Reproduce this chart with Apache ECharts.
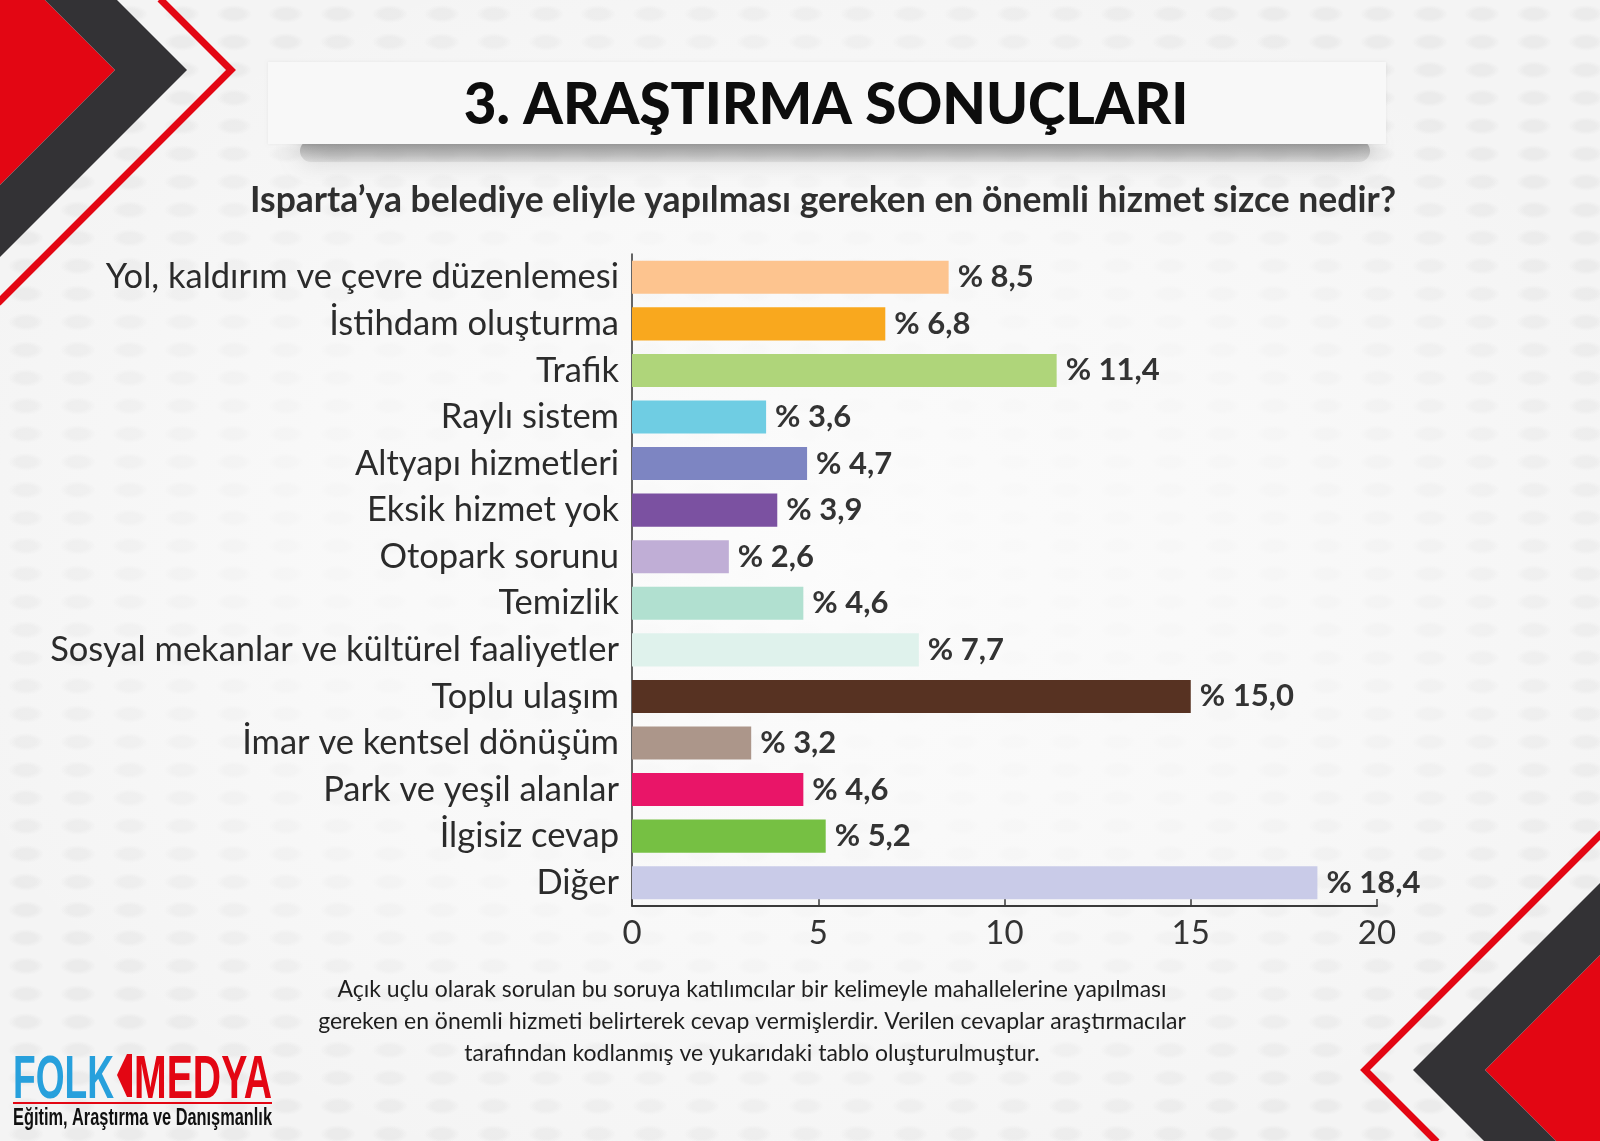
<!DOCTYPE html>
<html>
<head>
<meta charset="utf-8">
<script src="https://cdn.jsdelivr.net/npm/echarts@6/dist/echarts.min.js"></script>
<style>
html,body{margin:0;padding:0;}
#main{width:1600px;height:1141px;
background:
 radial-gradient(ellipse at 50% 50%, rgba(252,252,252,0.95) 0%, rgba(250,250,250,0.7) 45%, rgba(245,245,245,0) 80%),
 radial-gradient(ellipse 18px 9px at 50% 50%, #ebebeb 55%, rgba(235,235,235,0) 100%) 0 0/52px 28px,
 #f4f4f4;}
</style>
</head>
<body>
<div id="main"></div>
<script>
const categories = [
  'Yol, kaldırım ve çevre düzenlemesi',
  'İstihdam oluşturma',
  'Trafik',
  'Raylı sistem',
  'Altyapı hizmetleri',
  'Eksik hizmet yok',
  'Otopark sorunu',
  'Temizlik',
  'Sosyal mekanlar ve kültürel faaliyetler',
  'Toplu ulaşım',
  'İmar ve kentsel dönüşüm',
  'Park ve yeşil alanlar',
  'İlgisiz cevap',
  'Diğer'
];
const values = [8.5, 6.8, 11.4, 3.6, 4.7, 3.9, 2.6, 4.6, 7.7, 15.0, 3.2, 4.6, 5.2, 18.4];
const barColors = ['#fdc48f','#f9a81e','#afd57a','#6fcde3','#7d85c2','#7b51a1','#c0aed6',
  '#b1e0d0','#dff2ec','#573222','#ac968a','#e91568','#76c043','#c9cbe8'];
const xTicks = [0, 5, 10, 15, 20];
const titleText = '3. ARAŞTIRMA SONUÇLARI';
const subtitleText = 'Isparta’ya belediye eliyle yapılması gereken en önemli hizmet sizce nedir?';
const footnoteLines = [
  'Açık uçlu olarak sorulan bu soruya katılımcılar bir kelimeyle mahallelerine yapılması',
  'gereken en önemli hizmeti belirterek cevap vermişlerdir. Verilen cevaplar araştırmacılar',
  'tarafından kodlanmış ve yukarıdaki tablo oluşturulmuştur.'
];

const RED = '#e30613', DARK = '#333235';
const chart = echarts.init(document.getElementById('main'), null, {renderer:'canvas'});

// measure text to squeeze logo words into their boxes (condensed look)
const mctx = document.createElement('canvas').getContext('2d');
function fitScale(text, font, target) {
  mctx.font = font;
  const w = mctx.measureText(text).width;
  return w > 0 ? target / w : 1;
}
const LOGO_FONT = 'bold 61px "Liberation Sans", Arial, sans-serif';
const SUB_FONT = 'bold 24px "Liberation Sans", Arial, sans-serif';
const sFolk = fitScale('FOLK', LOGO_FONT, 101);
const sMedya = fitScale('MEDYA', LOGO_FONT, 138);
const sSub = fitScale('Eğitim, Araştırma ve Danışmanlık', SUB_FONT, 259);

const graphics = [
  // top-left decoration
  {type:'polygon', z:1, shape:{points:[[0,0],[45,0],[115,70],[0,185]]}, style:{fill:RED}},
  {type:'polygon', z:1, shape:{points:[[45,0],[117,0],[187,70],[0,257],[0,185],[115,70]]}, style:{fill:DARK}},
  {type:'polyline', z:1, shape:{points:[[160,-1],[231,70],[-2,303]]}, style:{stroke:RED, lineWidth:7, fill:null}},
  // bottom-right decoration
  {type:'polygon', z:1, shape:{points:[[1600,955],[1485,1070],[1556,1141],[1600,1141]]}, style:{fill:RED}},
  {type:'polygon', z:1, shape:{points:[[1600,883],[1413,1070],[1484,1141],[1556,1141],[1485,1070],[1600,955]]}, style:{fill:DARK}},
  {type:'polyline', z:1, shape:{points:[[1602,833],[1365,1070],[1437,1142]]}, style:{stroke:RED, lineWidth:7, fill:null}},
  // title banner shadow + banner
  {type:'rect', z:1, shape:{x:300,y:140,width:1070,height:22,r:11},
    style:{fill:new echarts.graphic.LinearGradient(0,0,0,1,[{offset:0,color:'rgba(130,130,130,0.85)'},{offset:1,color:'rgba(170,170,170,0.25)'}]),
      shadowBlur:22, shadowColor:'rgba(110,110,110,0.75)', shadowOffsetY:2}},
  {type:'rect', z:2, shape:{x:268,y:62,width:1118,height:82},
    style:{fill:'#f8f8f8', shadowBlur:3, shadowColor:'rgba(0,0,0,0.06)'}},
  {type:'text', z:3, x:826, y:106, style:{text:titleText, font:'900 56.5px Lato', fill:'#0d0d0d',
    textAlign:'center', textVerticalAlign:'middle'}},
  {type:'text', z:3, x:823, y:201, style:{text:subtitleText, font:'bold 35.5px Lato', fill:'#2f2f2f',
    textAlign:'center', textVerticalAlign:'middle'}},
  // footnote
  {type:'text', z:3, x:752, y:974, style:{text:footnoteLines.join('\n'), font:'23px Lato', fill:'#1e1e1e',
    textAlign:'center', textVerticalAlign:'top', lineHeight:32}},
  // logo
  {type:'text', z:3, x:13, y:1051, scaleX:sFolk, style:{text:'FOLK', font:LOGO_FONT, fill:'#27a0dc',
    textAlign:'left', textVerticalAlign:'top'}},
  {type:'polygon', z:3, shape:{points:[[117,1075],[127,1054],[132,1054],[132,1097],[127,1097]]}, style:{fill:RED}},
  {type:'text', z:3, x:134, y:1051, scaleX:sMedya, style:{text:'MEDYA', font:LOGO_FONT, fill:RED,
    textAlign:'left', textVerticalAlign:'top'}},
  {type:'line', z:3, shape:{x1:13,y1:1103,x2:272,y2:1103}, style:{stroke:RED, lineWidth:2}},
  {type:'text', z:3, x:13, y:1106, scaleX:sSub, style:{text:'Eğitim, Araştırma ve Danışmanlık', font:SUB_FONT, fill:'#111',
    textAlign:'left', textVerticalAlign:'top'}}
];

const option = {
  backgroundColor: 'transparent',
  animation: false,
  graphic: graphics,
  grid: {left:632, right:223, top:254, bottom:235, containLabel:false},
  xAxis: {
    type:'value', min:xTicks[0], max:xTicks[xTicks.length-1], interval:5,
    splitLine:{show:false},
    axisLine:{show:true, lineStyle:{color:'#3a3a3a', width:2}},
    axisTick:{show:true, inside:true, length:7, lineStyle:{color:'#3a3a3a', width:1.5}},
    axisLabel:{fontFamily:'Lato', fontSize:33, color:'#333', margin:11}
  },
  yAxis: {
    type:'category', data:categories, inverse:true,
    axisLine:{show:true, lineStyle:{color:'#333', width:1.5}},
    axisTick:{show:false},
    axisLabel:{fontFamily:'Lato', fontSize:34.5, color:'#2b2b2b', margin:13}
  },
  series: [{
    type:'bar',
    data: values.map((v,i)=>({value:v, itemStyle:{color:barColors[i]}})),
    barCategoryGap:'29%',
    label:{show:true, position:'right', distance:9, fontFamily:'Lato', fontWeight:'bold', fontSize:31, color:'#333',
      formatter:p=>'% ' + p.value.toFixed(1).replace('.', ',')}
  }]
};
chart.setOption(option);
</script>
</body>
</html>
